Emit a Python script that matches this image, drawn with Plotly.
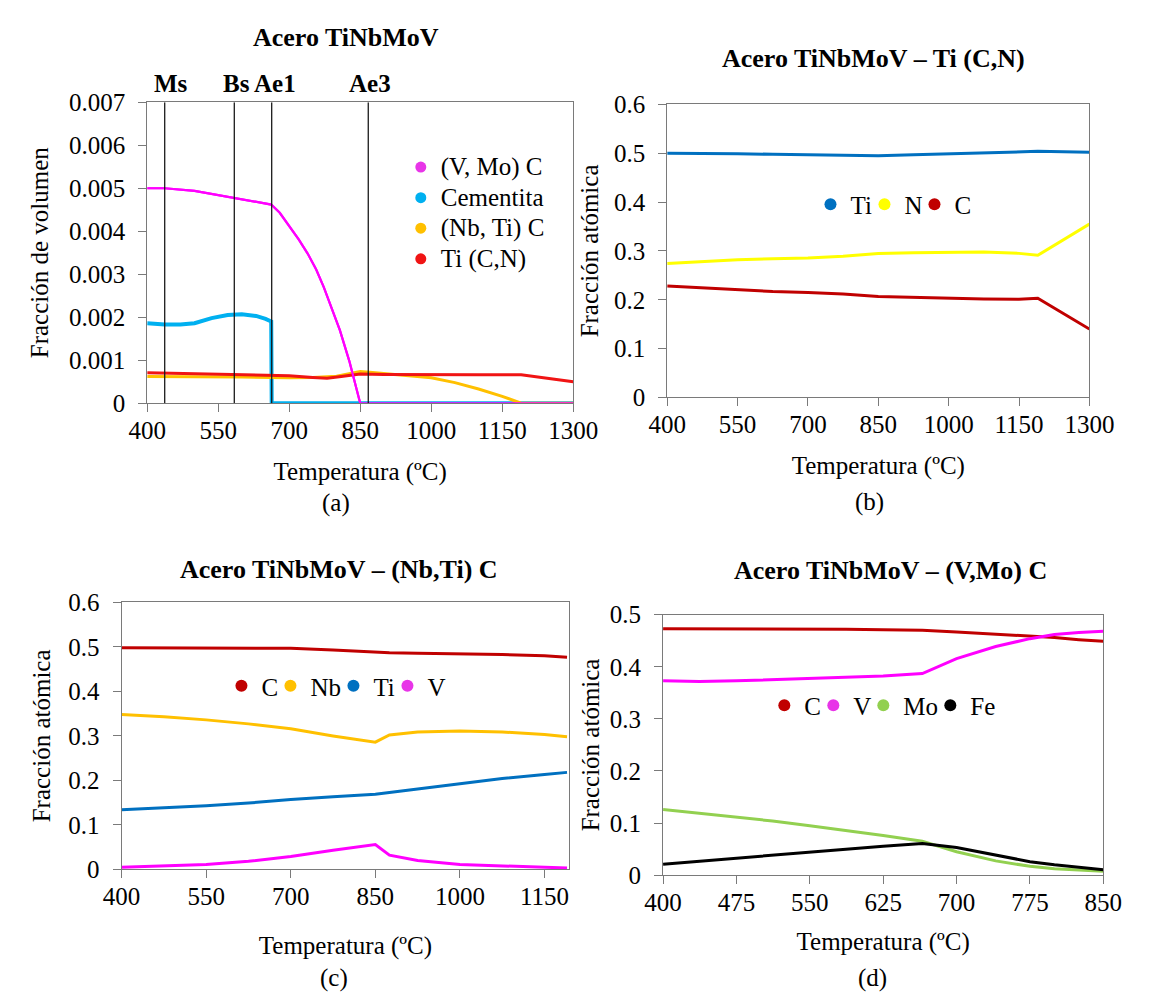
import plotly.graph_objects as go

W, H = 1149, 1005
FONT = "Liberation Serif, Times New Roman, serif"
AXC = "#7a7a7a"

# ---------------- Panel (a): volume fraction ----------------
temp_a_vmo = [400, 437, 500, 550, 584, 620, 662, 680, 699, 720, 739, 757, 773, 790, 807, 827, 850, 900, 1000, 1100, 1200, 1300]
vmo_c      = [0.00500, 0.00500, 0.00494, 0.00484, 0.00477, 0.00470, 0.00462, 0.00443, 0.00414, 0.00381, 0.00348,
              0.00311, 0.00270, 0.00222, 0.00170, 0.00098, 0.0, 0.0, 0.0, 0.0, 0.0, 0.0]
temp_a_cem = [400, 437, 470, 500, 536, 570, 600, 630, 650, 662, 663, 700, 850, 1000, 1150, 1300]
cementita  = [0.00186, 0.00183, 0.00183, 0.00186, 0.00198, 0.00205, 0.00207, 0.00203, 0.00196, 0.00190, 0.0,
              0.0, 0.0, 0.0, 0.0, 0.0]
temp_a_nbti = [400, 500, 600, 700, 750, 800, 830, 850, 870, 900, 950, 1000, 1050, 1100, 1150, 1190, 1250, 1300]
nbti_c      = [0.00062, 0.00062, 0.00061, 0.00059, 0.00060, 0.00063, 0.00070, 0.00074, 0.00072, 0.00069, 0.00065,
               0.00059, 0.00048, 0.00033, 0.00016, 0.0, 0.0, 0.0]
temp_a_ticn = [400, 450, 500, 550, 600, 650, 700, 750, 780, 810, 850, 900, 1000, 1100, 1190, 1250, 1300]
ti_cn       = [0.00071, 0.00070, 0.00068, 0.00067, 0.00066, 0.00065, 0.00064, 0.00060, 0.00058, 0.00062, 0.00068,
               0.00067, 0.00066, 0.00066, 0.00066, 0.00058, 0.00050]
transition_names = ["Ms", "Bs", "Ae1", "Ae3"]
transition_temps = [437, 584, 663, 867]
transition_label_x = [451, 588, 669, 871]
y_ticks_a = [0, 0.001, 0.002, 0.003, 0.004, 0.005, 0.006, 0.007]
y_ticktext_a = ["0", "0.001", "0.002", "0.003", "0.004", "0.005", "0.006", "0.007"]

# ---------------- Panel (b): Ti (C,N) ----------------
temp_b = [400, 475, 550, 625, 700, 775, 850, 925, 1000, 1075, 1150, 1190, 1300]
b_ti = [0.500, 0.500, 0.499, 0.498, 0.497, 0.496, 0.495, 0.497, 0.499, 0.501, 0.503, 0.504, 0.502]
b_n  = [0.2745, 0.279, 0.282, 0.284, 0.2855, 0.289, 0.2945, 0.2965, 0.298, 0.298, 0.295, 0.291, 0.355]
b_c  = [0.228, 0.224, 0.220, 0.217, 0.215, 0.212, 0.2067, 0.2045, 0.203, 0.2015, 0.201, 0.203, 0.140]

# ---------------- Panel (c): (Nb,Ti) C ----------------
temp_c = [400, 475, 550, 625, 700, 775, 850, 875, 925, 1000, 1075, 1150, 1190]
c_c  = [0.498, 0.498, 0.498, 0.498, 0.497, 0.493, 0.488, 0.487, 0.486, 0.485, 0.483, 0.480, 0.477]
c_nb = [0.348, 0.343, 0.336, 0.327, 0.316, 0.300, 0.286, 0.302, 0.309, 0.311, 0.309, 0.303, 0.298]
c_ti = [0.134, 0.138, 0.143, 0.149, 0.157, 0.163, 0.169, 0.173, 0.181, 0.193, 0.204, 0.213, 0.218]
c_v  = [0.005, 0.008, 0.011, 0.018, 0.029, 0.043, 0.056, 0.032, 0.020, 0.011, 0.0074, 0.0044, 0.003]

# ---------------- Panel (d): (V,Mo) C ----------------
temp_d = [400, 437, 475, 512, 550, 587, 625, 665, 700, 740, 775, 800, 825, 850]
d_c  = [0.473, 0.473, 0.473, 0.473, 0.473, 0.472, 0.471, 0.470, 0.467, 0.463, 0.459, 0.456, 0.452, 0.449]
d_v  = [0.373, 0.372, 0.373, 0.375, 0.378, 0.380, 0.3825, 0.387, 0.4156, 0.439, 0.454, 0.462, 0.466, 0.468]
d_mo = [0.126, 0.119, 0.112, 0.104, 0.095, 0.086, 0.076, 0.065, 0.045, 0.0275, 0.017, 0.0125, 0.0095, 0.0075]
d_fe = [0.021, 0.027, 0.0325, 0.039, 0.045, 0.050, 0.0556, 0.061, 0.053, 0.039, 0.026, 0.020, 0.015, 0.0106]

MAG, CYAN, ORANGE, RED = "#FF00FF", "#00B0F0", "#FFC000", "#F01414"
BLUE, YELLOW, DRED, GREEN, BLACK = "#0070C0", "#FFFF00", "#C00000", "#92D050", "#000000"


def xd(p0, p1):
    return [p0 / W, p1 / W]


def yd(top, bottom):
    return [1 - bottom / H, 1 - top / H]


fig = go.Figure()


def add_series(x, y, color, width, xa, ya, name, legend, lcolor=None, msize=12, lw=None, label=None):
    fig.add_trace(go.Scatter(x=x, y=y, mode="lines", line=dict(color=color, width=width),
                             xaxis=xa, yaxis=ya, showlegend=False, name=name, hoverinfo="x+y+name"))
    kw = {}
    if lw is not None:
        kw["legendwidth"] = lw
    fig.add_trace(go.Scatter(x=[None], y=[None], mode="markers", name=label or name, legend=legend,
                             marker=dict(color=lcolor or color, size=msize, symbol="circle"),
                             xaxis=xa, yaxis=ya, showlegend=True, **kw))


def big(txt):
    return '<span style="font-size:25px">' + txt + "</span>"


# panel a
add_series(temp_a_vmo, vmo_c, MAG, 2.2, "x", "y", "(V, Mo) C", "legend", lcolor="#E835E8", msize=11, label=big("(V, Mo) C"))
add_series(temp_a_cem, cementita, CYAN, 4, "x", "y", "Cementita", "legend", msize=11, label=big("Cementita"))
add_series(temp_a_nbti, nbti_c, ORANGE, 3, "x", "y", "(Nb, Ti) C", "legend", msize=11, label=big("(Nb, Ti) C"))
add_series(temp_a_ticn, ti_cn, RED, 3, "x", "y", "Ti (C,N)", "legend", msize=11, label=big("Ti (C,N)"))
fig.add_trace(go.Scatter(x=temp_a_vmo, y=vmo_c, mode="lines", line=dict(color=MAG, width=2.2),
                         xaxis="x", yaxis="y", showlegend=False, hoverinfo="skip"))

# panel b
add_series(temp_b, b_ti, BLUE, 3, "x2", "y2", "Ti", "legend2", lw=9)
add_series(temp_b, b_n, YELLOW, 3, "x2", "y2", "N", "legend2", lw=5)
add_series(temp_b, b_c, DRED, 3, "x2", "y2", "C", "legend2")

# panel c
add_series(temp_c, c_c, DRED, 3, "x3", "y3", "C", "legend3", lw=4)
add_series(temp_c, c_nb, ORANGE, 3, "x3", "y3", "Nb", "legend3", lw=18)
add_series(temp_c, c_ti, BLUE, 3, "x3", "y3", "Ti", "legend3", lw=9)
add_series(temp_c, c_v, MAG, 3, "x3", "y3", "V", "legend3", lcolor="#E835E8")

# panel d
add_series(temp_d, d_c, DRED, 3, "x4", "y4", "C", "legend4", lw=4)
add_series(temp_d, d_v, MAG, 3, "x4", "y4", "V", "legend4", lcolor="#E835E8", lw=5)
add_series(temp_d, d_mo, GREEN, 3, "x4", "y4", "Mo", "legend4", lw=22)
add_series(temp_d, d_fe, BLACK, 3, "x4", "y4", "Fe", "legend4")

# transition lines in (a)
for t in transition_temps:
    fig.add_shape(type="line", xref="x", yref="y", x0=t, x1=t, y0=0, y1=0.007,
                  line=dict(color="#1a1a1a", width=1.3), layer="above")

tickfont = dict(family=FONT, size=25, color="black")
titlefont = dict(family=FONT, size=25, color="black")


def xaxis(dom, rng, dtick, anchor, standoff):
    return dict(domain=dom, range=rng, tick0=400, dtick=dtick, anchor=anchor, showline=True, mirror=True,
                linecolor=AXC, linewidth=1, ticks="outside", ticklen=8, tickcolor=AXC, showgrid=False,
                zeroline=False, tickfont=tickfont, ticklabelstandoff=-3,
                title=dict(text="Temperatura (ºC)", font=titlefont, standoff=standoff))


def yaxis(dom, rng, anchor, title, standoff, **kw):
    d = dict(domain=dom, range=rng, anchor=anchor, showline=True, mirror=True,
             linecolor=AXC, linewidth=1, ticks="outside", ticklen=8, tickcolor=AXC, showgrid=False,
             zeroline=False, tickfont=tickfont, ticklabelstandoff=8,
             title=dict(text=title, font=titlefont, standoff=standoff))
    d.update(kw)
    return d


layout = dict(
    width=W, height=H, margin=dict(l=0, r=0, t=0, b=0),
    paper_bgcolor="white", plot_bgcolor="white",
    font=dict(family=FONT, size=25, color="black"),
    xaxis=xaxis(xd(133.3, 576.3), [400, 1300], 150, "y", 19),
    yaxis=yaxis(yd(91.7, 401), [0, 0.007], "x", "Fracción de volumen", 13,
                tickvals=y_ticks_a, ticktext=y_ticktext_a),
    xaxis2=xaxis(xd(674, 1113), [400, 1300], 150, "y2", 19),
    yaxis2=yaxis(yd(94, 395), [0, 0.6], "x2", "Fracción atómica", 8, dtick=0.1),
    xaxis3=xaxis(xd(106.7, 572.2), [400, 1194], 150, "y3", 27),
    yaxis3=yaxis(yd(605.7, 880), [0, 0.6], "x3", "Fracción atómica", 10, dtick=0.1),
    xaxis4=xaxis(xd(669.7, 1127.5), [400, 850], 75, "y4", 17),
    yaxis4=yaxis(yd(618.3, 886), [0, 0.5], "x4", "Fracción atómica", 3, dtick=0.1),
)

leg_common = dict(bgcolor="rgba(0,0,0,0)", borderwidth=0, font=dict(family=FONT, size=25, color="black"),
                  itemwidth=30, tracegroupgap=0, itemclick=False, itemdoubleclick=False)
layout["legend"] = dict(leg_common, orientation="v", x=397 / W, xanchor="left", y=1 - 137.5 / H, yanchor="top",
                        font=dict(family=FONT, size=21.2, color="black"))
layout["legend2"] = dict(leg_common, orientation="h", x=823 / W, xanchor="left", y=1 - 196.7 / H, yanchor="middle")
layout["legend3"] = dict(leg_common, orientation="h", x=210.5 / W, xanchor="left", y=1 - 691.7 / H, yanchor="middle")
layout["legend4"] = dict(leg_common, orientation="h", x=775 / W, xanchor="left", y=1 - 711.7 / H, yanchor="middle")

fig.update_layout(**layout)

# titles
panel_titles = ["Acero TiNbMoV", "Acero TiNbMoV – Ti (C,N)", "Acero TiNbMoV – (Nb,Ti) C", "Acero TiNbMoV – (V,Mo) C"]
title_pos = [(340, 25), (889, 47), (333, 572), (906, 573)]
for txt, (px, py) in zip(panel_titles, title_pos):
    fig.add_annotation(text="<b>" + txt + "</b>", x=px / W, y=1 - py / H, xref="paper", yref="paper",
                       showarrow=False, xanchor="center", yanchor="middle",
                       font=dict(family=FONT, size=26, color="black"))

sub_labels = ["(a)", "(b)", "(c)", "(d)"]
sub_pos = [(330, 504), (884, 503), (328, 992), (887, 992)]
for txt, (px, py) in zip(sub_labels, sub_pos):
    fig.add_annotation(text=txt, x=px / W, y=1 - py / H, xref="paper", yref="paper", showarrow=False,
                       xanchor="center", yanchor="middle", font=dict(family=FONT, size=25, color="black"))

for name, lx in zip(transition_names, transition_label_x):
    fig.add_annotation(text="<b>" + name + "</b>", x=lx, y=1 - 72 / H, xref="x", yref="paper", showarrow=False,
                       xanchor="center", yanchor="middle", font=dict(family=FONT, size=25, color="black"))

fig.write_html("out.html")
